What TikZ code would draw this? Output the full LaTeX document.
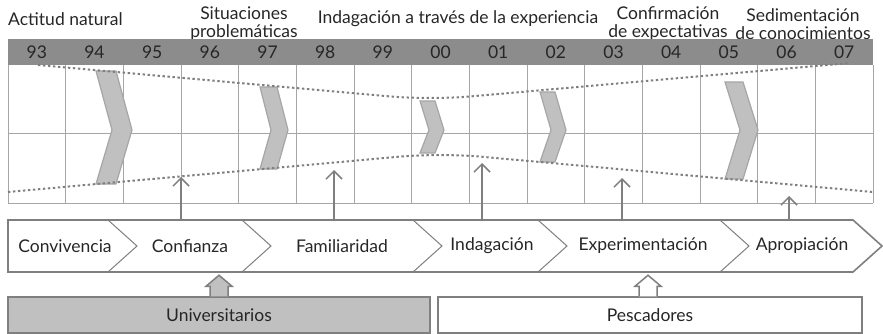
\documentclass[tikz,border=0pt]{standalone}
\usepackage{fontspec}
\setmainfont{Lato}
\usetikzlibrary{arrows.meta}
\definecolor{barGray}{HTML}{8C8C8C}
\definecolor{lineGray}{HTML}{A6A6A6}
\definecolor{darkGray}{HTML}{7F7F7F}
\definecolor{fillGray}{HTML}{C0C0C0}
\definecolor{textGray}{HTML}{262626}

\begin{document}
\begin{tikzpicture}[x = 1pt, y = -1pt, font = \fontsize{17.5}{18}\selectfont,
    every node/.style = {text = textGray, inner sep = 1pt},
    gridline/.style = {draw = lineGray, line width = 0.8pt},
    dots/.style = {draw = darkGray, line width = 2pt, dash pattern = on 2.4pt off 2.6pt},
    chev/.style = {draw = lineGray, fill = fillGray, line width = 1.2pt, line join = miter},
    procline/.style = {draw = darkGray, line width = 1.6pt},
    notch/.style = {draw = darkGray, line width = 1pt},
    uparrow/.style = {draw = darkGray, line width = 1.5pt, -{Straight Barb[length = 8pt, width = 16pt]}},
    groupbox/.style = {draw = darkGray, line width = 1.5pt, minimum height = 36pt},
    blockarrow/.style = {draw = darkGray, line width = 1.5pt, line join = miter}]
    \useasboundingbox (0,0) rectangle (883,334);

    % phases above the time line
    \node[anchor = west] (nat) at (7,19) {Actitud natural};
    \node[align = center] (sit) at (244,24) {Situaciones\\problemáticas};
    \node (ind) at (458,19) {Indagación a través de la experiencia};
    \node[align = center] (conf2) at (668,24) {Confirmación\\de expectativas};
    \node[align = center] (sed) at (803,24) {Sedimentación\\de conocimientos};

    % years
    \fill[barGray] (8,39) rectangle (873,65);
    \foreach \yr [count = \i from 0] in {93,94,95,96,97,98,99,00,01,02,03,04,05,06,07}
        \node (y\i) at (36.83+57.667*\i, 52) {\yr};

    % grid
    \foreach \i in {0,...,15}
        \draw[gridline] (8+57.667*\i,65) -- (8+57.667*\i,203);
    \draw[gridline] (8,133) -- (873,133);
    \draw[gridline] (8,203) -- (873,203);

    % turning points
    \foreach \a/\w/\s/\t/\b in {96/20/16/71/184, 260/17/11/87/169, 420/15/9/101/153,
        540/15/11/92/162, 725/18/15/82/179}
        \draw[chev] (\a,\t) -- (\a+\w,\t) -- (\a+\w+\s,130) -- (\a+\w,\b)
            -- (\a,\b) -- (\a+\s,130) -- cycle;

    % envelope
    \draw[dots, rounded corners = 40pt] (38,65) -- (430,100) -- (850,63);
    \draw[dots, rounded corners = 40pt] (8,192) -- (440,153) -- (873,192);

    % process
    \draw[procline] (8,220) -- (853,220) -- (882,246) -- (853,272) -- (8,272) -- cycle;
    \foreach \a in {108,242,413,538,720}
        \draw[notch] (\a,220) -- (\a+29,246) -- (\a,272);
    \node (conv) at (65,246) {Convivencia};
    \node (conf) at (190,246) {Confianza};
    \node (fam) at (342,246) {Familiaridad};
    \node (indag) at (492,246) {Indagación};
    \node (exper) at (643,246) {Experimentación};
    \node (aprop) at (802,246) {Apropiación};

    % links to the envelope
    \foreach \x/\y [count = \k] in {181/177, 334/170, 482/163, 622/178, 789/196} {
        \coordinate (s\k) at (\x,220);
        \coordinate (e\k) at (\x,\y);
        \draw[uparrow] (s\k) -- (e\k);
    }

    % actors
    \node[groupbox, fill = fillGray, minimum width = 422pt] (univ) at (219,315) {Universitarios};
    \node[groupbox, fill = white, minimum width = 424pt] (pesc) at (650,315) {Pescadores};
    \draw[blockarrow, fill = fillGray] ([xshift = -9pt]univ.north) -- ++(0,-10) -- ++(-4,0)
        -- ++(13,-11) -- ++(13,11) -- ++(-4,0) -- ++(0,10);
    \draw[blockarrow, fill = white] ([xshift = -11pt]pesc.north) -- ++(0,-10) -- ++(-4,0)
        -- ++(13,-11) -- ++(13,11) -- ++(-4,0) -- ++(0,10);
\end{tikzpicture}
\end{document}
